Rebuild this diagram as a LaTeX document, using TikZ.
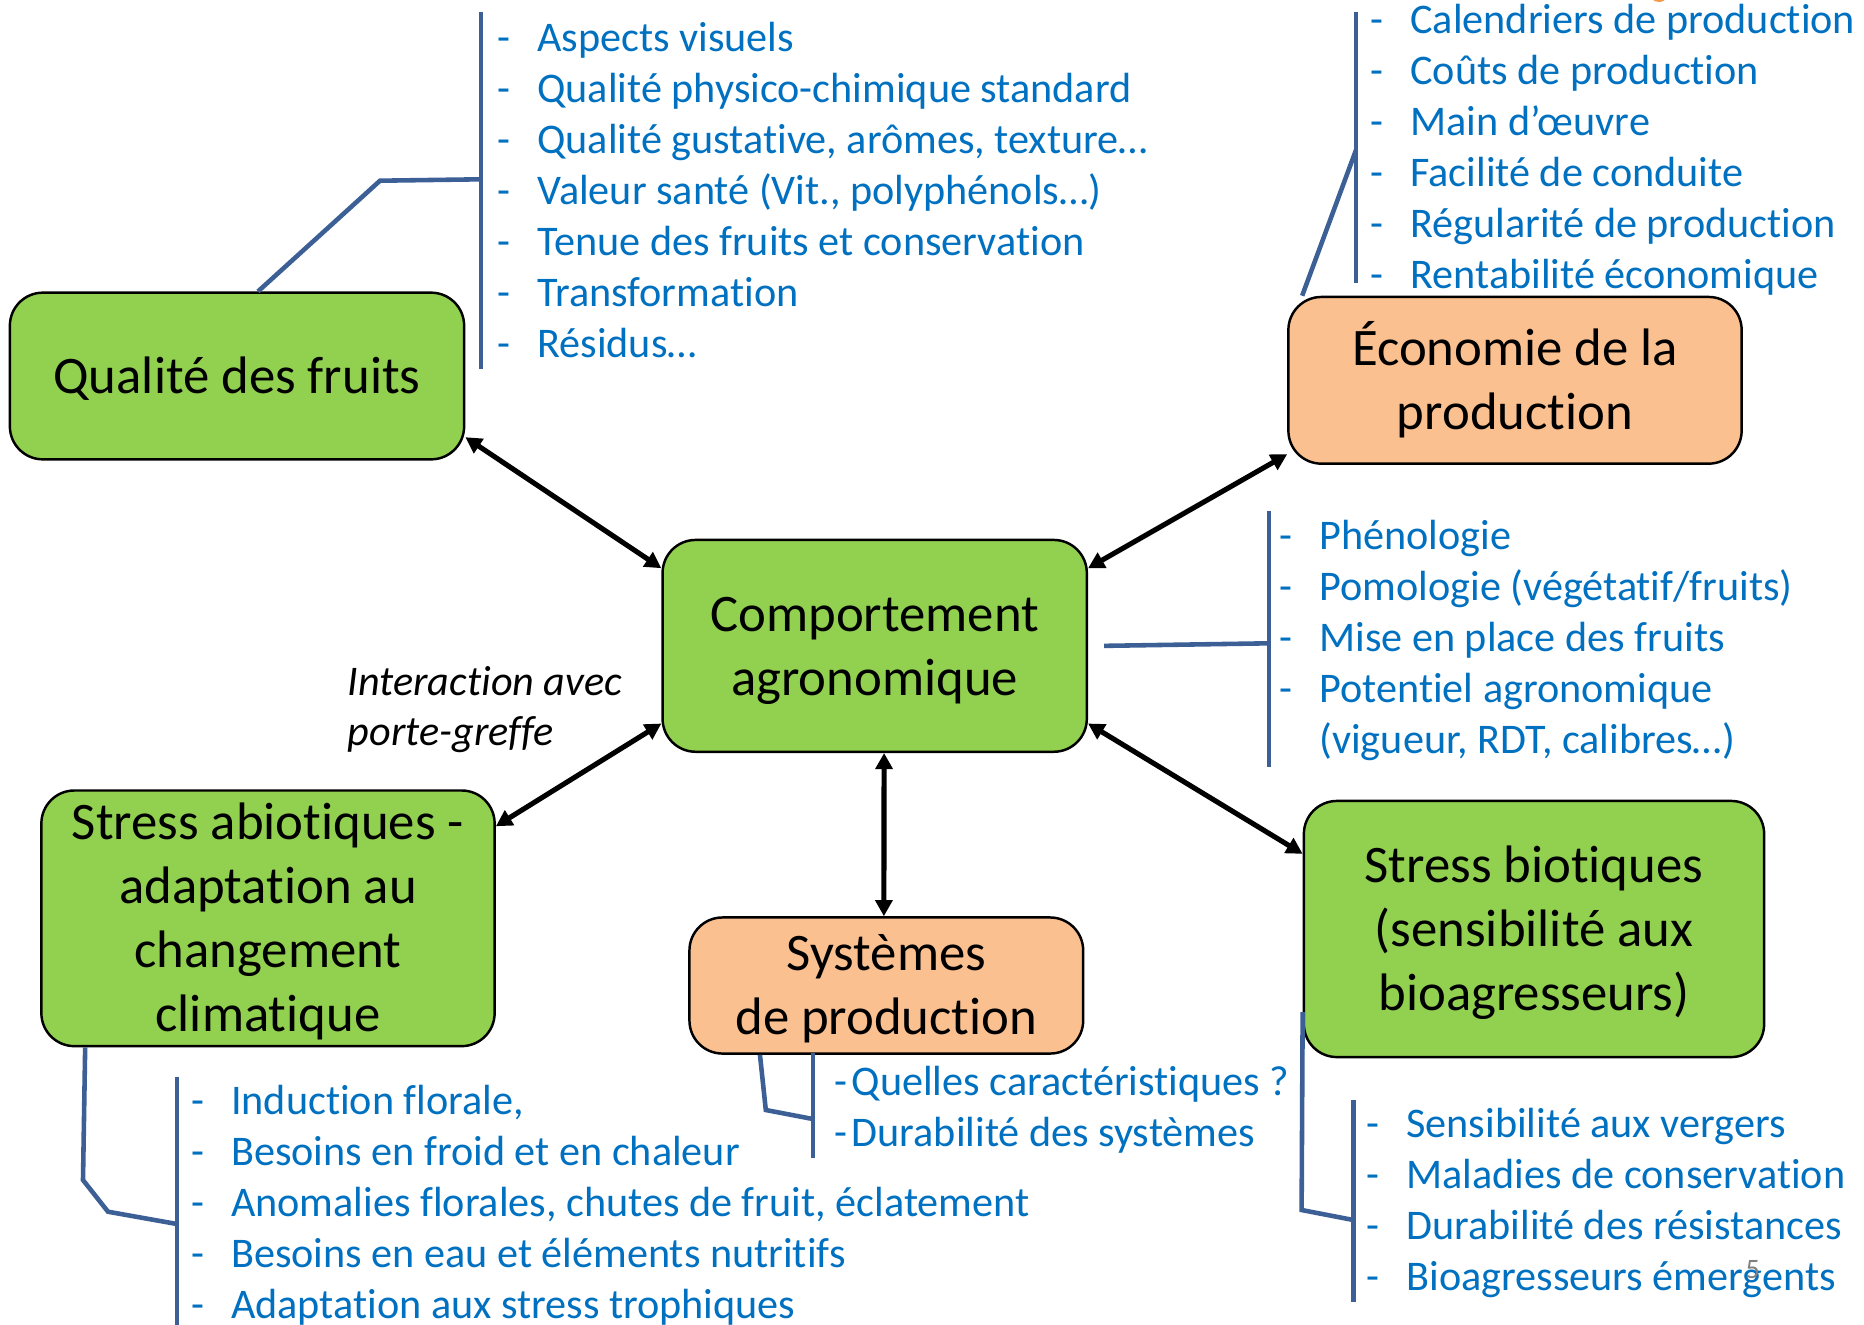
\documentclass[tikz,border=0pt]{standalone}
\usepackage{fontspec}
\setmainfont{Carlito}[Ligatures=NoCommon]
\usetikzlibrary{arrows.meta}

\definecolor{boxgreen}{HTML}{92D050}
\definecolor{boxorange}{HTML}{FAC090}
\definecolor{itemblue}{HTML}{0070C0}
\definecolor{brackblue}{HTML}{3C6096}
\definecolor{dotorange}{HTML}{F79646}

% tiret de liste
\newcommand{\dsh}[1][0.397cm]{\makebox[#1][l]{-}}
% hauteur et profondeur fixes des lignes de titre
\newcommand{\tst}{\rule{0pt}{13.65pt}}
\newcommand{\bst}{\rule[-3.75pt]{0pt}{3.75pt}}

\tikzset{
  theme/.style={draw=black, line width=0.7pt, rounded corners=0.33cm, align=center,
    inner sep=0pt, font=\fontsize{15}{18.2}\selectfont},
  greenbox/.style={theme, fill=boxgreen},
  orangebox/.style={theme, fill=boxorange},
  itemlist/.style={text=itemblue, align=left, anchor=base west, inner sep=0pt,
    font=\fontsize{12}{14.5}\selectfont},
  brack/.style={draw=brackblue, line width=1.3pt},
  link/.style={{Triangle[length=4.6pt,width=4.8pt]}-{Triangle[length=4.6pt,width=4.8pt]},
    line width=1.45pt, black}
}

\begin{document}
\begin{tikzpicture}[x=0.01cm, y=-0.01cm]
  \fill[white] (0,0) rectangle (1864,1324);
  \useasboundingbox (0,0) rectangle (1864,1324);

  % Themes
  \node (qual) at (237,376) [greenbox, minimum width=4.54cm, minimum height=1.666cm] {\tst Qualité des fruits\bst};
  \node (comp) at (874.7,645.85) [greenbox, minimum width=4.24cm, minimum height=2.117cm] {\tst Comportement\\agronomique\bst};
  \node (eco) at (1515,380.3) [orangebox, minimum width=4.53cm, minimum height=1.666cm] {\tst Économie de la\\production\bst};
  \node (abio) at (268,918.3) [greenbox, minimum width=4.53cm, minimum height=2.555cm] {\tst Stress abiotiques -\\adaptation au\\changement\\climatique\bst};
  \node (sys) at (886.3,985.5) [orangebox, minimum width=3.935cm, minimum height=1.36cm] {\tst Systèmes\\de production\bst};
  \node (bio) at (1534,929) [greenbox, minimum width=4.6cm, minimum height=2.56cm] {\tst Stress biotiques\\(sensibilité aux\\bioagresseurs)\bst};

  % Liens avec le comportement agronomique
  \draw[link] (qual.-15) -- (comp.160);
  \draw[link] (comp.20) -- (eco.198);
  \draw[link] (comp.200) -- (abio.22);
  \draw[link] (comp.-85) -- (sys.92);
  \draw[link] (comp.-20) -- (bio.162);

  \node (porte) at (347,745) [anchor=base west, align=left, inner sep=0pt,
    font=\fontsize{12}{14.2}\selectfont\itshape] {Interaction avec\\porte-greffe};

  % Qualite des fruits
  \coordinate (qtop) at (481,11.7);
  \coordinate (qbot) at (481,369.3);
  \coordinate (qknee) at (380,180.7);
  \coordinate (qjoin) at (481,179.3);
  \draw[brack] (qtop) -- (qbot);
  \draw[brack] ([xshift=0.21cm]qual.north) -- (qknee) -- (qjoin);
  \node (qlist) at (497,357.9) [itemlist] {\dsh Aspects visuels\\\dsh Qualité physico-chimique standard\\\dsh Qualité gustative, arômes, texture…\\\dsh Valeur santé (Vit., polyphénols…)\\\dsh Tenue des fruits et conservation\\\dsh Transformation\\\dsh Résidus…};

  % Economie
  \coordinate (etop) at (1356,11.7);
  \coordinate (ebot) at (1356,283.3);
  \coordinate (ejoin) at (1356,150);
  \draw[brack] (etop) -- (ebot);
  \draw[brack] ([xshift=0.15cm]eco.north west) -- (ejoin);
  \node (elist) at (1370,288.5) [itemlist] {\dsh Calendriers de production\\\dsh Coûts de production\\\dsh Main d’œuvre\\\dsh Facilité de conduite\\\dsh Régularité de production\\\dsh Rentabilité économique};
  \fill[dotorange] (1659,-8) circle (10);

  % Comportement
  \coordinate (ctop) at (1269,510.7);
  \coordinate (cbot) at (1269,766.7);
  \coordinate (cjoin) at (1269,643.3);
  \draw[brack] (ctop) -- (cbot);
  \draw[brack] ([xshift=0.16cm]comp.east) -- (cjoin);
  \node (clist) at (1279,753.5) [itemlist] {\dsh Phénologie\\\dsh Pomologie (végétatif/fruits)\\\dsh Mise en place des fruits\\\dsh Potentiel agronomique\\\hspace*{0.397cm}(vigueur, RDT, calibres…)};

  % Stress abiotiques
  \coordinate (atop) at (177,1076.7);
  \coordinate (abot) at (177,1330);
  \coordinate (aknee1) at (83,1180);
  \coordinate (aknee2) at (108,1211.7);
  \coordinate (ajoin) at (177,1224);
  \draw[brack] (atop) -- (abot);
  \draw[brack] ([xshift=0.45cm]abio.south west) -- (aknee1) -- (aknee2) -- (ajoin);
  \node (alist) at (190.7,1318) [itemlist] {\dsh Induction florale,\\\dsh Besoins en froid et en chaleur\\\dsh Anomalies florales, chutes de fruit, éclatement\\\dsh Besoins en eau et éléments nutritifs\\\dsh Adaptation aux stress trophiques};

  % Systemes
  \coordinate (stop) at (812.9,1053);
  \coordinate (sbot) at (812.9,1158.3);
  \coordinate (sknee) at (765.8,1110);
  \coordinate (sjoin) at (812.9,1119);
  \draw[brack] (stop) -- (sbot);
  \draw[brack] ([xshift=0.717cm]sys.south west) -- (sknee) -- (sjoin);
  \node (slist) at (834,1146) [itemlist] {\dsh[0.17cm]Quelles caractéristiques ?\\\dsh[0.17cm]Durabilité des systèmes};

  % Stress biotiques
  \coordinate (btop) at (1353.4,1100);
  \coordinate (bbot) at (1353.4,1301.7);
  \coordinate (bknee) at (1301.6,1210);
  \coordinate (bjoin) at (1353.4,1220);
  \draw[brack] (btop) -- (bbot);
  \draw[brack] ([yshift=-0.83cm]bio.west) -- (bknee) -- (bjoin);
  \node (blist) at (1366,1290.7) [itemlist] {\dsh Sensibilité aux vergers\\\dsh Maladies de conservation\\\dsh Durabilité des résistances\\\dsh Bioagresseurs émergents};

  \node (pnum) at (1745,1278) [anchor=base west, inner sep=0pt, text=gray, font=\fontsize{8}{9}\selectfont] {5};
\end{tikzpicture}
\end{document}
